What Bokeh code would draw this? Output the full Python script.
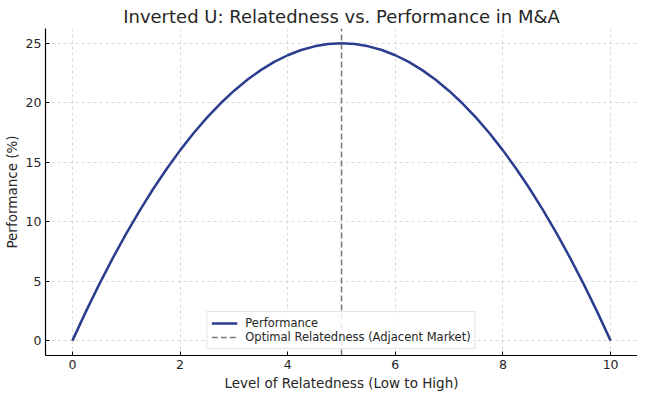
from bokeh.plotting import figure
from bokeh.embed import file_html
from bokeh.resources import INLINE
from bokeh.models import Range1d, FixedTicker, Legend, LegendItem

relatedness = [0, 0.25, 0.5, 0.75, 1, 1.25, 1.5, 1.75, 2, 2.25, 2.5, 2.75, 3, 3.25, 3.5, 3.75, 4, 4.25, 4.5, 4.75,
               5, 5.25, 5.5, 5.75, 6, 6.25, 6.5, 6.75, 7, 7.25, 7.5, 7.75, 8, 8.25, 8.5, 8.75, 9, 9.25, 9.5, 9.75, 10]
performance = [0, 2.44, 4.75, 6.94, 9, 10.94, 12.75, 14.44, 16, 17.44, 18.75, 19.94, 21, 21.94, 22.75, 23.44, 24, 24.44, 24.75, 24.94,
               25, 24.94, 24.75, 24.44, 24, 23.44, 22.75, 21.94, 21, 19.94, 18.75, 17.44, 16, 14.44, 12.75, 10.94, 9, 6.94, 4.75, 2.44, 0]
optimal_x = 5
x_ticks = [0, 2, 4, 6, 8, 10]
y_ticks = [0, 5, 10, 15, 20, 25]

FONT = "DejaVu Sans"
Y_LO, Y_HI = -1.25, 26.25

p = figure(frame_width=592, frame_height=327, output_backend="svg", toolbar_location=None,
           x_range=Range1d(-0.5, 10.5), y_range=Range1d(Y_LO, Y_HI),
           title="Inverted U: Relatedness vs. Performance in M&A")
p.min_border_left = 44
p.min_border_right = 0
p.min_border_top = 28
p.min_border_bottom = 34
p.outline_line_color = None
p.background_fill_color = "white"

p.title.text_font = FONT
p.title.text_font_size = "18px"
p.title.text_font_style = "normal"
p.title.text_color = "#262626"
p.title.align = "center"
p.title.offset = 0
p.title.standoff = 3

for ax in (p.xaxis[0], p.yaxis[0]):
    ax.axis_line_color = "black"
    ax.axis_line_width = 1.2
    ax.major_tick_in = 4
    ax.major_tick_out = 0
    ax.major_tick_line_color = "black"
    ax.minor_tick_line_color = None
    ax.major_label_text_font = FONT
    ax.major_label_text_font_size = "12.5px"
    ax.major_label_text_color = "#262626"
    ax.axis_label_text_font = FONT
    ax.axis_label_text_font_size = "13.5px"
    ax.axis_label_text_font_style = "normal"
    ax.axis_label_text_color = "#262626"
    ax.major_label_standoff = 4
    ax.axis_label_standoff = 3

p.xaxis.ticker = FixedTicker(ticks=x_ticks)
p.yaxis.ticker = FixedTicker(ticks=y_ticks)
p.xaxis.axis_label = "Level of Relatedness (Low to High)"
p.yaxis.axis_label = "Performance (%)"

p.grid.grid_line_color = "#cfcfcf"
p.grid.grid_line_dash = "3 3"
p.grid.grid_line_width = 0.8

r_line = p.line(relatedness, performance, line_color="#2b3d8f", line_width=2.5)
r_dash = p.line([optimal_x, optimal_x], [Y_LO, Y_HI], line_color="#777777", line_width=1.5, line_dash="6 3")

legend = Legend(items=[LegendItem(label="Performance", renderers=[r_line]),
                       LegendItem(label="Optimal Relatedness (Adjacent Market)", renderers=[r_dash])],
                location="bottom_center")
legend.label_text_font = FONT
legend.label_text_font_size = "11.5px"
legend.label_text_color = "#262626"
legend.border_line_color = "#cccccc"
legend.background_fill_alpha = 0.85
legend.glyph_width = 26
legend.glyph_height = 14
legend.label_standoff = 8
legend.spacing = 0
legend.padding = 4
legend.margin = 6
legend.label_height = 14
p.add_layout(legend, "center")

open("out.html", "w").write(file_html(p, INLINE))
